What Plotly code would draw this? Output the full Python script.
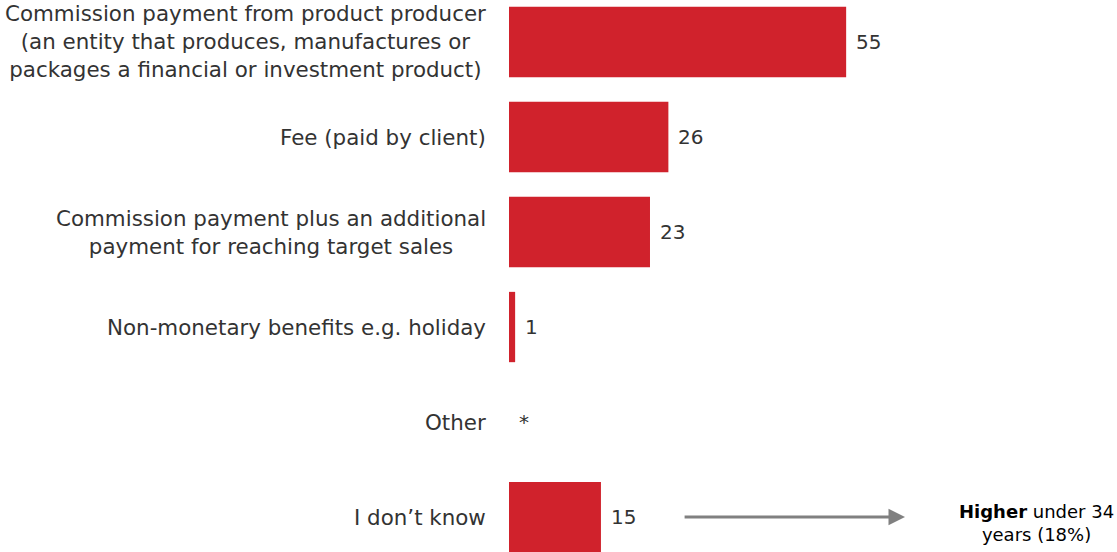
import plotly.graph_objects as go

# Survey answers: how advisers are paid (percent of respondents)
categories = [
    "Commission payment from product producer<br>(an entity that produces, manufactures or<br>packages a financial or investment product)",
    "Fee (paid by client)",
    "Commission payment plus an additional<br>payment for reaching target sales",
    "Non-monetary benefits e.g. holiday",
    "Other",
    "I don’t know",
]
values = [55, 26, 23, 1, None, 15]
value_labels = ["55", "26", "23", "1", "*", "15"]

callout_text = "<b>Higher</b> under 34<br>years (18%)"

BAR_RED = "#D0222C"
TEXT = "#333333"
FONT = "DejaVu Sans, Verdana, sans-serif"

W, H = 1117, 552
LEFT = 509
PX_PER_UNIT = 6.13

fig = go.Figure(
    go.Bar(
        y=categories,
        x=values,
        orientation="h",
        marker=dict(color=BAR_RED, line=dict(width=0)),
        width=0.74,
        hoverinfo="skip",
    )
)

annotations = []
# Category labels to the left of the bars, centred line by line
for cat in categories:
    annotations.append(dict(
        x=0, y=cat, xref="x", yref="y",
        text=cat, showarrow=False,
        xanchor="right", yanchor="middle", align="center",
        xshift=-21,
        font=dict(family=FONT, size=21.4, color=TEXT),
    ))

# Value labels just past the end of each bar
for cat, v, lab in zip(categories, values, value_labels):
    annotations.append(dict(
        x=v if v is not None else 0, y=cat, xref="x", yref="y",
        text=lab, showarrow=False,
        xanchor="left", yanchor="middle",
        xshift=8,
        font=dict(family=FONT, size=20, color=TEXT),
    ))

# Arrow pointing to the callout
annotations.append(dict(
    x=64.6, y=categories[-1], xref="x", yref="y",
    ax=28.4, ay=0, axref="x", ayref="pixel",
    text="", showarrow=True,
    arrowhead=2, arrowsize=1.1, arrowwidth=3, arrowcolor="#808080",
))

annotations.append(dict(
    x=(1036 - LEFT) / (W - LEFT), y=categories[-1], xref="paper", yref="y",
    text=callout_text, showarrow=False,
    xanchor="center", yanchor="middle", align="center",
    yshift=-6,
    font=dict(family=FONT, size=18, color="#000000"),
))

fig.update_layout(
    width=W, height=H,
    margin=dict(l=LEFT, r=0, t=0, b=0),
    paper_bgcolor="white", plot_bgcolor="white",
    showlegend=False,
    xaxis=dict(range=[0, (W - LEFT) / PX_PER_UNIT], visible=False, fixedrange=True),
    yaxis=dict(
        type="category",
        categoryorder="array", categoryarray=categories,
        range=[5.368, -0.442],
        showticklabels=False, showgrid=False, zeroline=False, showline=False,
        ticks="",
    ),
    annotations=annotations,
)

fig.write_html("out.html")
